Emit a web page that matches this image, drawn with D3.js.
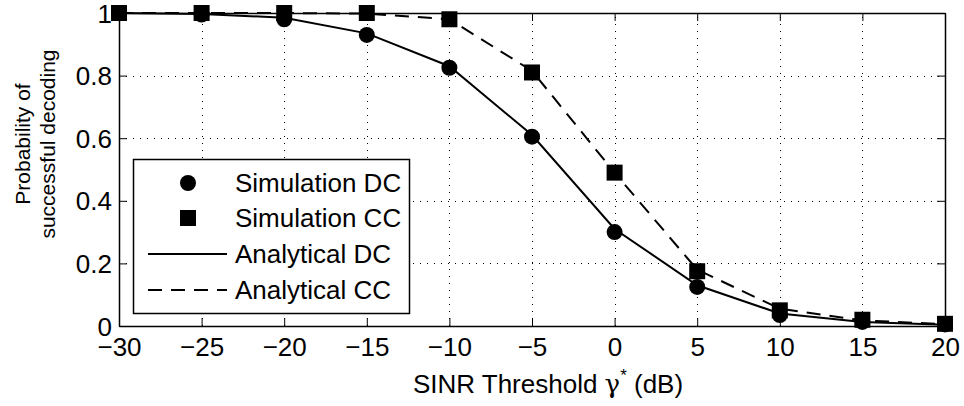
<!DOCTYPE html>
<html>
<head>
<meta charset="utf-8">
<script src="https://cdn.jsdelivr.net/npm/d3@7"></script>
<style>
  body { margin: 0; background: #fff; }
  text { font-family: "Liberation Sans", Arial, sans-serif; fill: #000; }
</style>
</head>
<body>
<script>
var xVals = [-30, -25, -20, -15, -10, -5, 0, 5, 10, 15, 20];
var simDC = [1, 0.995, 0.98, 0.93, 0.825, 0.605, 0.3, 0.125, 0.035, 0.013, 0.005];
var simCC = [1, 1, 1, 1, 0.98, 0.81, 0.49, 0.175, 0.05, 0.02, 0.007];
var anaDC = [1, 0.997, 0.985, 0.935, 0.83, 0.61, 0.31, 0.13, 0.04, 0.013, 0.004];
var anaCC = [1, 1, 1, 0.998, 0.98, 0.815, 0.49, 0.18, 0.055, 0.018, 0.006];
var xTicks = [-30, -25, -20, -15, -10, -5, 0, 5, 10, 15, 20];
var yTicks = [0, 0.2, 0.4, 0.6, 0.8, 1];
var legendItems = ["Simulation DC", "Simulation CC", "Analytical DC", "Analytical CC"];

var W = 964, H = 406;
var mLeft = 119, mRight = 945, mTop = 13, mBottom = 326;

var svg = d3.select("body").append("svg")
  .attr("width", W).attr("height", H);

var x = d3.scaleLinear().domain([-30, 20]).range([mLeft, mRight]);
var y = d3.scaleLinear().domain([0, 1]).range([mBottom, mTop]);

// grid
var grid = svg.append("g").attr("stroke", "#000").attr("stroke-width", 1)
  .attr("stroke-dasharray", "1,6");
grid.selectAll(".gx").data(xTicks.slice(1, -1)).enter().append("line")
  .attr("x1", d => Math.round(x(d)) + 0.5).attr("x2", d => Math.round(x(d)) + 0.5)
  .attr("y1", mBottom).attr("y2", mTop);
grid.selectAll(".gy").data(yTicks.slice(1, -1)).enter().append("line")
  .attr("y1", d => Math.round(y(d)) + 0.5).attr("y2", d => Math.round(y(d)) + 0.5)
  .attr("x1", mLeft).attr("x2", mRight);

// axes with inward ticks
var xAxis = svg.append("g").attr("transform", "translate(0," + mBottom + ")")
  .call(d3.axisBottom(x).tickValues(xTicks).tickSizeInner(-8).tickSizeOuter(0)
    .tickFormat(d => d < 0 ? "\u2212" + Math.abs(d) : d).tickPadding(12));
var xTop = svg.append("g").attr("transform", "translate(0," + mTop + ")")
  .call(d3.axisTop(x).tickValues(xTicks).tickSizeInner(-8).tickSizeOuter(0).tickFormat(""));
var yAxis = svg.append("g").attr("transform", "translate(" + mLeft + ",0)")
  .call(d3.axisLeft(y).tickValues(yTicks).tickSizeInner(-8).tickSizeOuter(0)
    .tickFormat(d => d).tickPadding(7));
var yRight = svg.append("g").attr("transform", "translate(" + mRight + ",0)")
  .call(d3.axisRight(y).tickValues(yTicks).tickSizeInner(-8).tickSizeOuter(0).tickFormat(""));

[xAxis, xTop, yAxis, yRight].forEach(function(g) {
  g.selectAll("path").attr("stroke", "#000").attr("stroke-width", 1.5);
  g.selectAll("line").attr("stroke", "#000");
  g.selectAll("text").style("font-size", "26px").attr("fill", "#000");
});
xAxis.selectAll("text").attr("dy", "0.68em");
yAxis.selectAll("text").attr("dy", "0.35em");

// lines
var line = function(vals) {
  return d3.line().x((d, i) => x(xVals[i])).y(d => y(d))(vals);
};
svg.append("path").attr("d", line(anaDC)).attr("fill", "none")
  .attr("stroke", "#000").attr("stroke-width", 2);
svg.append("path").attr("d", line(anaCC)).attr("fill", "none")
  .attr("stroke", "#000").attr("stroke-width", 2).attr("stroke-dasharray", "14,9");

// markers
svg.selectAll(".dc").data(simDC).enter().append("circle")
  .attr("cx", (d, i) => x(xVals[i])).attr("cy", d => y(d)).attr("r", 8).attr("fill", "#000");
svg.selectAll(".cc").data(simCC).enter().append("rect")
  .attr("x", (d, i) => x(xVals[i]) - 8).attr("y", d => y(d) - 8)
  .attr("width", 16).attr("height", 16).attr("fill", "#000");

// legend
var lg = svg.append("g");
lg.append("rect").attr("x", 133.5).attr("y", 159.5).attr("width", 276).attr("height", 154)
  .attr("fill", "#fff").attr("stroke", "#000").attr("stroke-width", 1.5);
var rowY = [183, 218, 254, 290];
lg.append("circle").attr("cx", 188).attr("cy", rowY[0]).attr("r", 8).attr("fill", "#000");
lg.append("rect").attr("x", 180).attr("y", rowY[1] - 8).attr("width", 16).attr("height", 16).attr("fill", "#000");
lg.append("line").attr("x1", 148).attr("x2", 227).attr("y1", rowY[2]).attr("y2", rowY[2])
  .attr("stroke", "#000").attr("stroke-width", 2);
lg.append("line").attr("x1", 148).attr("x2", 227).attr("y1", rowY[3]).attr("y2", rowY[3])
  .attr("stroke", "#000").attr("stroke-width", 2).attr("stroke-dasharray", "14,9");
lg.selectAll(".lt").data(legendItems).enter().append("text")
  .attr("x", 235).attr("y", (d, i) => rowY[i]).attr("dy", "0.35em")
  .style("font-size", "26px").text(d => d);

// axis labels
var xl = svg.append("text").attr("x", 548).attr("y", 393).attr("text-anchor", "middle")
  .style("font-size", "26px");
xl.append("tspan").text("SINR Threshold ");
xl.append("tspan").text("\u03b3").attr("font-family", "DejaVu Serif, serif");
xl.append("tspan").text("*").attr("dy", -12).style("font-size", "17px");
xl.append("tspan").text(" (dB)").attr("dy", 12);

var yl = svg.append("text").attr("transform", "translate(30,144) rotate(-90)")
  .attr("text-anchor", "middle").style("font-size", "21px");
yl.append("tspan").attr("x", 0).attr("dy", 0).text("Probability of");
yl.append("tspan").attr("x", 0).attr("dy", 25).text("successful decoding");
</script>
</body>
</html>
